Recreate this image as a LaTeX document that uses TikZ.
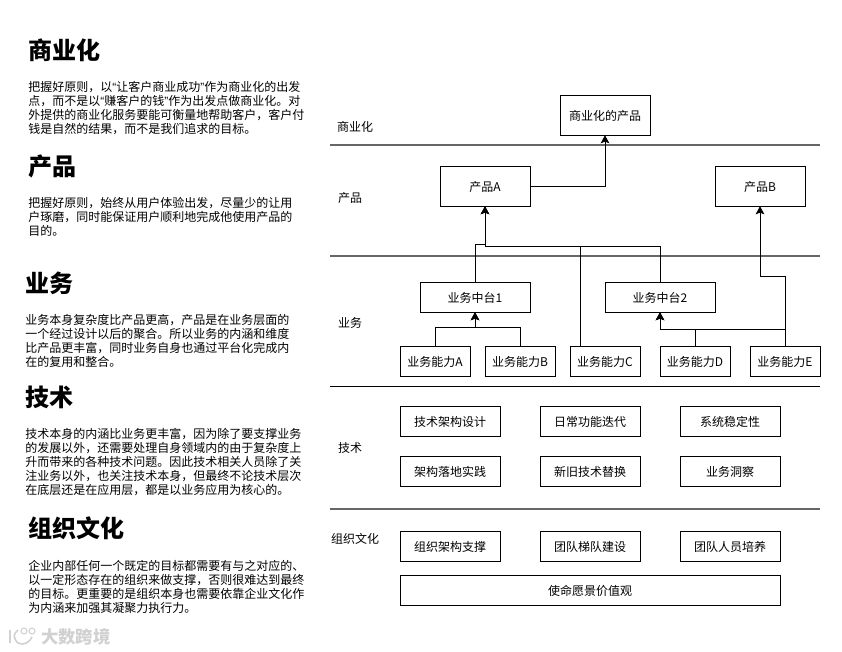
\documentclass[tikz,border=0pt]{standalone}
\usepackage{fontspec}
\setmainfont{Noto Sans CJK SC}
\newfontfamily\quotefont{Liberation Sans}
\newcommand{\openq}{{\quotefont “}}
\newcommand{\closeq}{{\quotefont ”}}
\usetikzlibrary{arrows.meta}
\tikzset{
  box/.style={draw, minimum height=30*0.75pt, minimum width=70*0.75pt, inner sep=0pt, text height=9pt, text depth=1pt, font=\fontsize{9}{10.5}\selectfont},
  layer/.style={font=\fontsize{9}{10.5}\selectfont, inner sep=0pt, text height=9pt, text depth=1pt},
  heading/.style={anchor=west, inner sep=0pt, font=\fontsize{18}{20}\selectfont\bfseries},
  para/.style={anchor=north west, align=left, inner sep=0pt, font=\fontsize{9}{10.5}\selectfont},
  sep/.style={draw=black!60, line width=0.8pt},
  flow/.style={-{Stealth[length=6pt,width=6.5pt,inset=1.2pt]}, line width=0.6pt},
  wmark/.style={text=black!18, inner sep=0pt, font=\fontsize{13}{14}\selectfont\bfseries},
  wlogo/.style={draw=black!18, line width=1.2pt},
}
\begin{document}
\begin{tikzpicture}[x=0.75pt, y=-0.75pt]
  \useasboundingbox (0,0) rectangle (842,652);

  % left column
  \node [heading] (hBiz) at (28,50) {商业化};
  \node [para] (pBiz) at (28,81) {把握好原则，以\openq{}让客户商业成功\closeq{}作为商业化的出发\\点，而不是以\openq{}赚客户的钱\closeq{}作为出发点做商业化。对\\外提供的商业化服务要能可衡量地帮助客户，客户付\\钱是自然的结果，而不是我们追求的目标。};
  \node [heading] (hProd) at (28,166) {产品};
  \node [para] (pProd) at (28,197) {把握好原则，始终从用户体验出发，尽量少的让用\\户琢磨，同时能保证用户顺利地完成他使用产品的\\目的。};
  \node [heading] (hServ) at (25,283) {业务};
  \node [para] (pServ) at (25,314) {业务本身复杂度比产品更高，产品是在业务层面的\\一个经过设计以后的聚合。所以业务的内涵和维度\\比产品更丰富，同时业务自身也通过平台化完成内\\在的复用和整合。};
  \node [heading] (hTech) at (25,397) {技术};
  \node [para] (pTech) at (25,428) {技术本身的内涵比业务更丰富，因为除了要支撑业务\\的发展以外，还需要处理自身领域内的由于复杂度上\\升而带来的各种技术问题。因此技术相关人员除了关\\注业务以外，也关注技术本身，但最终不论技术层次\\在底层还是在应用层，都是以业务应用为核心的。};
  \node [heading] (hOrg) at (28,528) {组织文化};
  \node [para] (pOrg) at (28,560) {企业内部任何一个既定的目标都需要有与之对应的、\\以一定形态存在的组织来做支撑，否则很难达到最终\\的目标。更重要的是组织本身也需要依靠企业文化作\\为内涵来加强其凝聚力执行力。};

  % layers
  \draw [sep] (330,145)--(820,145);
  \draw [sep] (330,256)--(820,256);
  \draw [line width=0.6pt] (330,386.5)--(820,386.5);
  \draw [sep] (330,509)--(820,509);
  \node [layer] (lBiz) at (355,126) {商业化};
  \node [layer] (lProd) at (350,197) {产品};
  \node [layer] (lServ) at (350,322) {业务};
  \node [layer] (lTech) at (350,447) {技术};
  \node [layer] (lOrg) at (355,538) {组织文化};

  % boxes
  \node [box, minimum width=90*0.75pt, minimum height=40*0.75pt] (bizProduct) at (605,115) {商业化的产品};
  \node [box, minimum width=90*0.75pt, minimum height=40*0.75pt] (prodA) at (485,186) {产品A};
  \node [box, minimum width=90*0.75pt, minimum height=40*0.75pt] (prodB) at (760,186) {产品B};
  \node [box, minimum width=110*0.75pt] (platOne) at (475,297) {业务中台1};
  \node [box, minimum width=110*0.75pt] (platTwo) at (660,297) {业务中台2};
  \node [box] (abilA) at (435,361) {业务能力A};
  \node [box] (abilB) at (520,361) {业务能力B};
  \node [box] (abilC) at (605,361) {业务能力C};
  \node [box] (abilD) at (695,361) {业务能力D};
  \node [box] (abilE) at (785,361) {业务能力E};

  \node [box, minimum width=100*0.75pt] (techA) at (450,421) {技术架构设计};
  \node [box, minimum width=100*0.75pt] (techB) at (590,421) {日常功能迭代};
  \node [box, minimum width=100*0.75pt] (techC) at (730,421) {系统稳定性};
  \node [box, minimum width=100*0.75pt] (techD) at (450,471) {架构落地实践};
  \node [box, minimum width=100*0.75pt] (techE) at (590,471) {新旧技术替换};
  \node [box, minimum width=100*0.75pt] (techF) at (730,471) {业务洞察};

  \node [box, minimum width=100*0.75pt] (orgA) at (450,546) {组织架构支撑};
  \node [box, minimum width=100*0.75pt] (orgB) at (590,546) {团队梯队建设};
  \node [box, minimum width=100*0.75pt] (orgC) at (730,546) {团队人员培养};
  \node [box, minimum width=380*0.75pt] (orgD) at (590,590) {使命愿景价值观};

  % connectors
  \coordinate (joinLeft) at (485,244);
  \coordinate (joinRight) at (485,246);
  \coordinate (joinC) at (580,246);
  \draw [flow] (prodA.east) -| (bizProduct.south);
  \draw [flow] (platOne.north) |- (joinLeft) -- (prodA.south);
  \draw [flow] (platTwo.north) |- (joinRight) -- (prodA.south);
  \draw [line width=0.6pt] (abilC.north -| joinC) -- (joinC);
  \coordinate (bendB) at (760,276);
  \draw [flow] (abilE.north) |- (bendB) -- (prodB.south);
  \coordinate (busOne) at (475,327);
  \coordinate (busTwo) at (660,329);
  \draw [flow] (abilA.north) |- (busOne) -- (platOne.south);
  \draw [flow] (abilB.north) |- (busOne) -- (platOne.south);
  \draw [flow] (abilD.north) |- (busTwo) -- (platTwo.south);
  \draw [flow] (abilE.north) |- (busTwo) -- (platTwo.south);

  % watermark
  \draw [wlogo] (10,630)--(10,643);
  \draw [wlogo] (18,630) .. controls (13,634) and (13,638) .. (18,643) .. controls (24,646) and (30,642) .. (32,637);
  \draw [wlogo, line width=0.8pt] (24,631) circle (3);
  \draw [wlogo, line width=0.8pt] (32,631) circle (3);
  \node [wmark, anchor=west] (logoText) at (41,636.5) {大数跨境};
\end{tikzpicture}
\end{document}
